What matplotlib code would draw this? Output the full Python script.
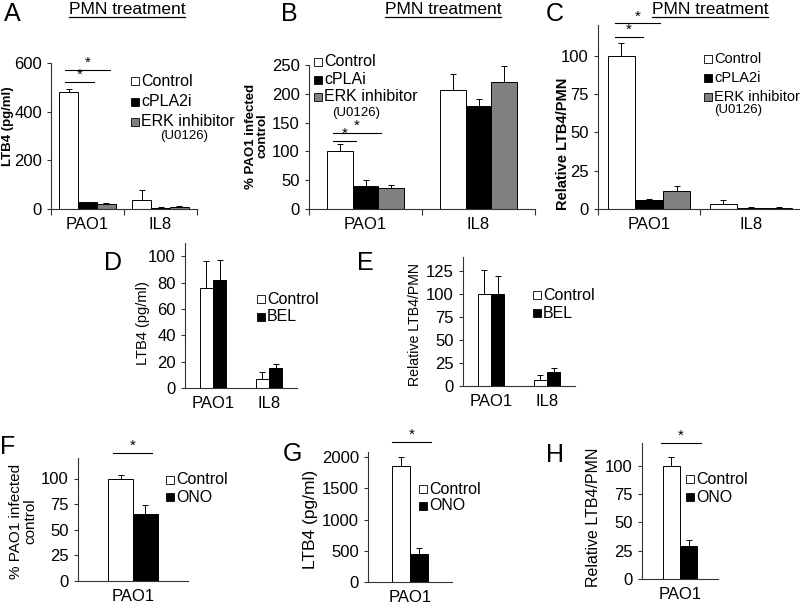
import numpy as np
import matplotlib
matplotlib.use("Agg")
import matplotlib.pyplot as plt
from matplotlib.patches import Rectangle
from matplotlib.lines import Line2D

plt.rcParams['font.family'] = ['Liberation Sans', 'DejaVu Sans']
plt.rcParams['font.size'] = 11

W, H = 800, 607  # figure size in pixels (dpi 100)

# ---- data ----
cats_two = ["PAO1", "IL8"]
cats_one = ["PAO1"]
treat_abc = ["Control", "cPLA2i", "ERK inhibitor"]
treat_b = ["Control", "cPLAi", "ERK inhibitor"]
treat_de = ["Control", "BEL"]
treat_fgh = ["Control", "ONO"]

a_ctrl, a_ctrl_err = [480, 37], [12, 41]
a_cpla, a_cpla_err = [27, 6], [3, 2]
a_erk, a_erk_err = [22, 8], [2, 6]

b_ctrl, b_ctrl_err = [100, 207], [12, 27]
b_cpla, b_cpla_err = [40, 178], [10, 13]
b_erk, b_erk_err = [37, 220], [4, 28]

c_ctrl, c_ctrl_err = [100, 3.5], [8, 2.4]
c_cpla, c_cpla_err = [6, 0.8], [0.7, 0.3]
c_erk, c_erk_err = [12, 0.8], [3, 0.3]

d_ctrl, d_ctrl_err = [76, 7], [20, 5.5]
d_bel, d_bel_err = [82, 15], [15, 3.5]

e_ctrl, e_ctrl_err = [100, 7], [26, 5]
e_bel, e_bel_err = [100, 15], [19, 4]

f_ctrl, f_ctrl_err = [100], [3.5]
f_ono, f_ono_err = [65], [9]

g_ctrl, g_ctrl_err = [1850], [150]
g_ono, g_ono_err = [450], [90]

h_ctrl, h_ctrl_err = [100], [8]
h_ono, h_ono_err = [29], [5]

WHITE, BLACK, GREY = "white", "black", "#808080"
TICK_FS = 12


def px_axes(fig, x0, x1, ytop, ybot):
    ax = fig.add_axes([x0 / W, 1 - ybot / H, (x1 - x0) / W, (ybot - ytop) / H])
    ax.spines["top"].set_visible(False)
    ax.spines["right"].set_visible(False)
    for s in ("left", "bottom"):
        ax.spines[s].set_linewidth(0.8)
        ax.spines[s].set_color("#333333")
    ax.tick_params(axis="y", length=3, width=0.8, pad=3.5, labelsize=TICK_FS, color="#333333")
    ax.patch.set_alpha(0)
    return ax


def draw_bars(ax, cats, series, width, dividers=False):
    x = np.arange(len(cats)) + 0.5
    n = len(series)
    for i, (vals, errs, col) in enumerate(series):
        pos = x + (i - (n - 1) / 2) * width
        ax.errorbar(pos, vals, yerr=[np.zeros(len(vals)), errs], fmt="none",
                    ecolor="black", elinewidth=0.7, capsize=2.5, capthick=0.7, zorder=1)
        ax.bar(pos, vals, width, color=col, edgecolor="black", linewidth=0.7, zorder=2)
    ax.set_xlim(0, len(cats))
    ax.set_xticks(x, cats)
    ax.tick_params(axis="x", length=0, pad=6, labelsize=TICK_FS)
    if dividers:
        ax.set_xticks(np.arange(len(cats) + 1), minor=True)
        ax.tick_params(axis="x", which="minor", length=4, width=0.8, color="#333333")


def sig(ax, x0, x1, y):
    ax.plot([x0, x1], [y, y], color="black", lw=0.8, clip_on=False)
    ax.annotate("*", ((x0 + x1) / 2, y), xytext=(0, 0), textcoords="offset points",
                ha="center", va="bottom", fontsize=11, annotation_clip=False)


def key(fig, x, ys, labels, colors, size=11.5):
    for y, lab, col in zip(ys, labels, colors):
        fig.add_artist(Rectangle((x / W, 1 - (y + 4) / H), 8 / W, 8 / H, facecolor=col,
                                 edgecolor="black", lw=0.6, transform=fig.transFigure))
        fig.text((x + 10) / W, 1 - y / H, lab, ha="left", va="center", fontsize=size)


def ftext(fig, x, y, s, **kw):
    return fig.text(x / W, 1 - y / H, s, **kw)


fig = plt.figure(figsize=(W / 100, H / 100), dpi=100)

# ---- A ----
ax = px_axes(fig, 51, 197, 63, 209)
draw_bars(ax, cats_two, [(a_ctrl, a_ctrl_err, WHITE), (a_cpla, a_cpla_err, BLACK),
                         (a_erk, a_erk_err, GREY)], 0.26, dividers=True)
ax.set_ylim(0, 600)
ax.set_yticks([0, 200, 400, 600])
sig(ax, 0.19, 0.59, 522)
sig(ax, 0.19, 0.81, 571)
key(fig, 131, [81, 102, 122], treat_abc, [WHITE, BLACK, GREY], size=11.5)
ftext(fig, 160, 136, "(U0126)", ha="left", va="center", fontsize=9.5)
ftext(fig, 8, 126, "LTB4 (pg/ml)", rotation=90, ha="center", va="center",
      fontsize=9.5, fontweight="bold")

# ---- B ----
ax = px_axes(fig, 309, 535, 65, 209)
draw_bars(ax, cats_two, [(b_ctrl, b_ctrl_err, WHITE), (b_cpla, b_cpla_err, BLACK),
                         (b_erk, b_erk_err, GREY)], 0.23, dividers=True)
ax.set_ylim(0, 250)
ax.set_yticks(range(0, 251, 50))
sig(ax, 0.21, 0.42, 118)
sig(ax, 0.21, 0.64, 132)
key(fig, 314, [62, 80, 97], treat_b, [WHITE, BLACK, GREY], size=11.5)
ftext(fig, 332, 113, "(U0126)", ha="left", va="center", fontsize=9.5)
ftext(fig, 257, 136, "% PAO1 infected\ncontrol", rotation=90, ha="center", va="center",
      fontsize=9.5, fontweight="bold", multialignment="center", linespacing=1.0)

# ---- C ----
ax = px_axes(fig, 598, 802, 25, 209)
draw_bars(ax, cats_two, [(c_ctrl, c_ctrl_err, WHITE), (c_cpla, c_cpla_err, BLACK),
                         (c_erk, c_erk_err, GREY)], 0.27, dividers=True)
ax.set_ylim(0, 120)
ax.set_yticks(range(0, 101, 25))
sig(ax, 0.17, 0.44, 112)
sig(ax, 0.17, 0.61, 121)
key(fig, 704, [59, 78, 97], treat_abc, [WHITE, BLACK, GREY], size=10.5)
ftext(fig, 714, 110, "(U0126)", ha="left", va="center", fontsize=9.5)
ftext(fig, 563, 144, "Relative LTB4/PMN", rotation=90, ha="center", va="center",
      fontsize=10.5, fontweight="bold")

# ---- D ----
ax = px_axes(fig, 185, 297, 243, 388)
draw_bars(ax, cats_two, [(d_ctrl, d_ctrl_err, WHITE), (d_bel, d_bel_err, BLACK)], 0.24)
ax.set_ylim(0, 110)
ax.set_yticks(range(0, 101, 20))
key(fig, 257, [299, 317], treat_de, [WHITE, BLACK])
ftext(fig, 143, 323, "LTB4 (pg/ml)", rotation=90, ha="center", va="center", fontsize=10.5)

# ---- E ----
ax = px_axes(fig, 463, 575, 257, 386)
draw_bars(ax, cats_two, [(e_ctrl, e_ctrl_err, WHITE), (e_bel, e_bel_err, BLACK)], 0.24)
ax.set_ylim(0, 140)
ax.set_yticks(range(0, 126, 25))
key(fig, 533, [295, 313], treat_de, [WHITE, BLACK])
ftext(fig, 415, 324, "Relative LTB4/PMN", rotation=90, ha="center", va="center", fontsize=10.2)

# ---- F ----
ax = px_axes(fig, 78, 188, 458, 581)
draw_bars(ax, cats_one, [(f_ctrl, f_ctrl_err, WHITE), (f_ono, f_ono_err, BLACK)], 0.227)
ax.set_ylim(0, 120)
ax.set_yticks(range(0, 101, 25))
sig(ax, 0.32, 0.67, 125)
key(fig, 166, [480, 497], treat_fgh, [WHITE, BLACK])
ftext(fig, 23, 521, "% PAO1 infected\ncontrol", rotation=90, ha="center", va="center",
      fontsize=11, multialignment="center", linespacing=1.0)

# ---- G ----
ax = px_axes(fig, 368, 452, 452, 582)
draw_bars(ax, cats_one, [(g_ctrl, g_ctrl_err, WHITE), (g_ono, g_ono_err, BLACK)], 0.22)
ax.set_ylim(0, 2080)
ax.set_yticks(range(0, 2001, 500))
sig(ax, 0.29, 0.75, 2240)
key(fig, 419, [489, 506], treat_fgh, [WHITE, BLACK])
ftext(fig, 310, 519, "LTB4 (pg/ml)", rotation=90, ha="center", va="center", fontsize=12.5)

# ---- H ----
ax = px_axes(fig, 642, 718, 443, 579)
draw_bars(ax, cats_one, [(h_ctrl, h_ctrl_err, WHITE), (h_ono, h_ono_err, BLACK)], 0.23)
ax.set_ylim(0, 120)
ax.set_yticks(range(0, 101, 25))
sig(ax, 0.25, 0.78, 120)
key(fig, 686, [479, 497], treat_fgh, [WHITE, BLACK])
ftext(fig, 593, 517, "Relative LTB4/PMN", rotation=90, ha="center", va="center", fontsize=11.5)

# ---- panel letters and titles ----
for letter, (lx, ly) in zip("ABCDEFGH", [(12, 14), (289, 14), (555, 14), (113, 263),
                                         (365, 263), (8, 447), (292, 454), (555, 455)]):
    ftext(fig, lx, ly, letter, ha="center", va="center", fontsize=18)

titles = [ftext(fig, cx, 10, "PMN treatment", ha="center", va="center", fontsize=12.5)
          for cx in (127, 443, 710)]
renderer = fig.canvas.get_renderer()
for t in titles:
    bb = t.get_window_extent(renderer)
    fig.add_artist(Line2D([bb.x0 / W, bb.x1 / W], [(bb.y0 + 1) / H] * 2, color="black",
                          lw=0.9, transform=fig.transFigure))

fig.savefig("out.png", dpi=100)
